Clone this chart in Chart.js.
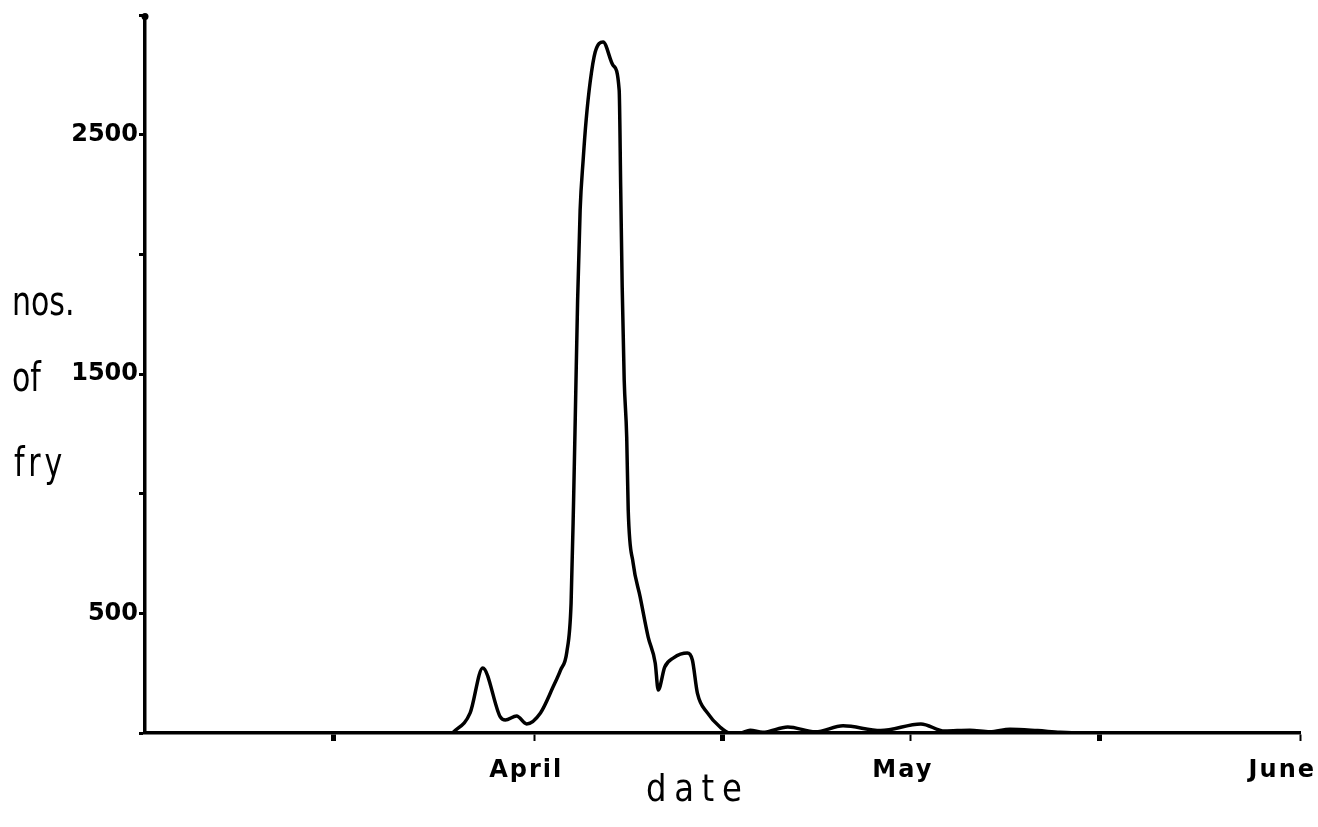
<!DOCTYPE html>
<html>
<head>
<meta charset="utf-8">
<title>nos. of fry by date</title>
<script src="https://cdn.jsdelivr.net/npm/chart.js@4"></script>
<style>
    body { margin: 0; background: #fff; }
    #wrap { width: 1318px; height: 827px; position: relative; }
</style>
</head>
<body>
<div id="wrap"><canvas id="fryChart"></canvas></div>
<script>
// days counted from 1 March (day 0)
const dayNumbers = [24.5, 25.9, 26.9, 28.3, 28.7, 29.6, 30.4, 31.5, 32.5, 33.1, 33.6,
    33.94, 34.14, 34.30, 34.46, 34.66, 34.9, 35.14, 35.46, 35.86, 36.49,
    37.3, 37.77, 37.89, 38.01, 38.17, 38.37, 38.49, 38.88, 39.44, 40.08, 40.64, 40.88,
    41.4, 42.1, 43.2, 43.6, 44.0, 44.8, 45.8, 46.6,
    47.4, 48.2, 49.2, 51.2, 53.4, 55.6, 58.6, 61.8, 63.7, 65.7, 67.3, 68.9,
    71.1, 72.9, 74.5, 92];
const fryCounts = [0, 84, 272, 67, 54, 71, 38, 84, 192, 263, 339,
    543, 974, 1392, 1810, 2186, 2395, 2563, 2722, 2847, 2889,
    2790, 2688, 2283, 1865, 1476, 1237, 932, 711, 569, 401, 293, 180,
    276, 314, 334, 305, 167, 84, 25, 0,
    0, 12, 3, 25, 5, 30, 10, 38, 8, 12, 5, 16,
    10, 3, 0, 0];

const monthNames = ['April', 'May', 'June'];
const monthDays = [31, 61, 92];
const halfMonthDays = [15, 46, 76];
const yLabelled = [500, 1500, 2500];
const yStep = 500;
const yMax = 3000;
const yTitleLines = ['nos.', 'of', 'fry'];
const xTitle = 'date';

const points = dayNumbers.map((d, i) => ({ x: d, y: fryCounts[i] }));

// text that sits outside the axes
const textPlugin = {
    id: 'textPlugin',
    afterDraw(chart) {
        const ctx = chart.ctx;
        const xs = chart.scales.x;
        const ys = chart.scales.y;
        ctx.save();
        ctx.fillStyle = '#000';
        ctx.textBaseline = 'alphabetic';
        ctx.textAlign = 'left';

        // dot at the top of the y axis
        ctx.beginPath();
        ctx.arc(xs.left, ys.top + 1, 3.5, 0, Math.PI * 2);
        ctx.fill();

        // month names under the month ticks
        ctx.font = 'bold 24px "DejaVu Sans"';
        ctx.letterSpacing = '2px';
        monthNames.forEach((name, i) => {
            const w = ctx.measureText(name).width;
            let left = xs.getPixelForValue(monthDays[i]) - w / 2 - 8;
            if (left + w > chart.width - 2) left = chart.width - w - 2;
            ctx.fillText(name, left, 777);
        });

        // x title
        ctx.font = '38px "DejaVu Sans"';
        ctx.letterSpacing = '9px';
        ctx.save();
        ctx.translate(646, 801);
        ctx.scale(0.85, 1);
        ctx.fillText(xTitle, 0, 0);
        ctx.restore();

        // y title, one word per line
        ctx.font = '40px "DejaVu Sans"';
        const lines = [[yTitleLines[0], 12, 315, '0px'], [yTitleLines[1], 12, 391, '0px'], [yTitleLines[2], 14, 476, '5px']];
        lines.forEach(([txt, x, y, sp]) => {
            ctx.save();
            ctx.letterSpacing = sp;
            ctx.translate(x, y);
            ctx.scale(0.75, 1);
            ctx.fillText(txt, 0, 0);
            ctx.restore();
        });
        ctx.restore();
    }
};

new Chart(document.getElementById('fryChart'), {
    type: 'line',
    data: {
        datasets: [{
            data: points,
            borderColor: '#000',
            borderWidth: 3.5,
            pointRadius: 0,
            fill: false,
            cubicInterpolationMode: 'monotone'
        }]
    },
    options: {
        responsive: true,
        maintainAspectRatio: false,
        animation: false,
        layout: { padding: { top: 14, right: 18, left: 0, bottom: 0 } },
        plugins: {
            legend: { display: false },
            tooltip: { enabled: false }
        },
        scales: {
            x: {
                type: 'linear',
                min: 0,
                max: 92,
                afterBuildTicks: scale => {
                    scale.ticks = halfMonthDays.concat(monthDays).sort((a, b) => a - b).map(v => ({ value: v }));
                },
                afterFit: scale => { scale.height = 94; },
                ticks: { display: false },
                grid: {
                    drawOnChartArea: false,
                    drawTicks: true,
                    tickLength: 8,
                    tickWidth: ctx => halfMonthDays.includes(ctx.tick && ctx.tick.value) ? 5 : 2,
                    tickColor: '#000'
                },
                border: { color: '#000', width: 3.5 }
            },
            y: {
                min: 0,
                max: yMax,
                afterFit: scale => { scale.width = 145; },
                ticks: {
                    stepSize: yStep,
                    padding: 1,
                    color: '#000',
                    font: { family: 'DejaVu Sans', weight: 'bold', size: 24 },
                    callback: v => yLabelled.includes(v) ? String(v) : ''
                },
                grid: {
                    drawOnChartArea: false,
                    drawTicks: true,
                    tickLength: 6,
                    tickWidth: 3,
                    tickColor: '#000'
                },
                border: { color: '#000', width: 3.5 }
            }
        }
    },
    plugins: [textPlugin]
});
</script>
</body>
</html>
